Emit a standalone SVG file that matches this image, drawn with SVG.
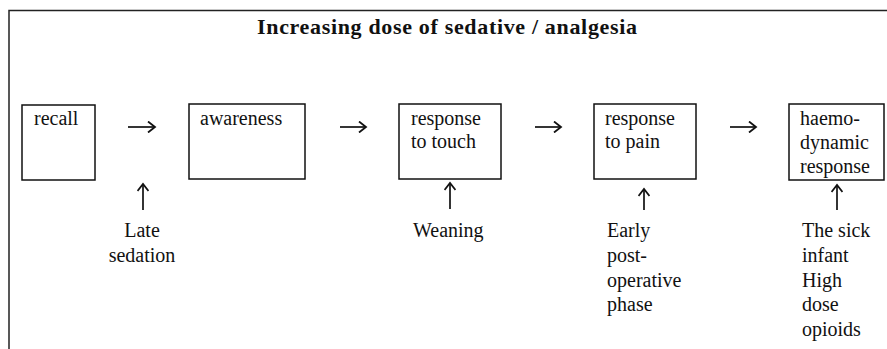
<svg xmlns="http://www.w3.org/2000/svg" width="887" height="349" viewBox="0 0 887 349">
<defs>
<style>
.t{font-family:"Liberation Serif","Times New Roman",serif;font-size:20px;fill:#111}
.title{font-family:"Liberation Serif","Times New Roman",serif;font-size:22px;font-weight:bold;fill:#111}
.box{fill:#fff;stroke:#111;stroke-width:1.5}
.frame{fill:none;stroke:#222;stroke-width:1.5}
.c{fill:none;stroke:#111;stroke-width:1.7;marker-end:url(#ah)}
</style>
<marker id="ah" markerWidth="12" markerHeight="12" refX="9" refY="6" orient="auto" markerUnits="userSpaceOnUse">
<path d="M2,0.5 L9,6 L2,11.5" fill="none" stroke="#111" stroke-width="1.8"/>
</marker>
</defs>
<rect width="887" height="349" fill="#fff"/>
<path class="frame" d="M9,349 V10.5 H887"/>
<text class="title" x="447" y="34" text-anchor="middle" textLength="380" lengthAdjust="spacing">Increasing dose of sedative / analgesia</text>

<g id="recall">
<rect class="box" x="22" y="105" width="73" height="75"/>
<text class="t" x="34" y="125">recall</text>
</g>
<g id="awareness">
<rect class="box" x="189" y="104" width="116" height="75"/>
<text class="t" x="200" y="125">awareness</text>
</g>
<g id="touch">
<rect class="box" x="399" y="104" width="102" height="75"/>
<text class="t" x="411" y="125">response</text>
<text class="t" x="411" y="148">to touch</text>
</g>
<g id="pain">
<rect class="box" x="594" y="104" width="102" height="75"/>
<text class="t" x="605" y="125">response</text>
<text class="t" x="605" y="148">to pain</text>
</g>
<g id="haemo">
<rect class="box" x="789" y="104" width="95" height="76"/>
<text class="t" x="800" y="125">haemo-</text>
<text class="t" x="800" y="149">dynamic</text>
<text class="t" x="800" y="173">response</text>
</g>

<g id="label-late">
<text class="t" x="142" y="237" text-anchor="middle">Late</text>
<text class="t" x="142" y="262" text-anchor="middle">sedation</text>
</g>
<g id="label-weaning">
<text class="t" x="413" y="237">Weaning</text>
</g>
<g id="label-early">
<text class="t" x="607" y="237">Early</text>
<text class="t" x="607" y="262">post-</text>
<text class="t" x="607" y="287">operative</text>
<text class="t" x="607" y="311">phase</text>
</g>
<g id="label-sick">
<text class="t" x="802" y="237">The sick</text>
<text class="t" x="802" y="262">infant</text>
<text class="t" x="802" y="287">High</text>
<text class="t" x="802" y="311">dose</text>
<text class="t" x="802" y="336">opioids</text>
</g>

<g id="connectors">
<path class="c" d="M128,127 H155"/>
<path class="c" d="M340,127 H366"/>
<path class="c" d="M535,127 H561"/>
<path class="c" d="M730,127 H756"/>
<path class="c" d="M143,210 V184"/>
<path class="c" d="M450,209 V183"/>
<path class="c" d="M644,210 V189"/>
<path class="c" d="M837,210 V185"/>
</g>
</svg>
